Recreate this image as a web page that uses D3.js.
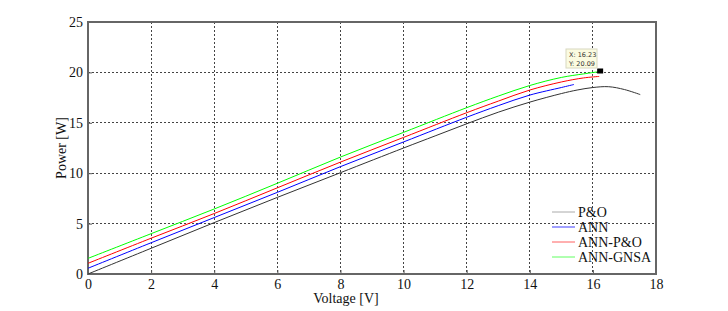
<!DOCTYPE html>
<html><head><meta charset="utf-8">
<script src="https://cdn.jsdelivr.net/npm/d3@7"></script>
<style>body{margin:0;background:#fff;} svg{display:block;}</style>
</head><body>
<svg id="c" width="728" height="311"></svg>
<script>
const xTicks = [0,2,4,6,8,10,12,14,16,18];
const yTicks = [0,5,10,15,20,25];
const seriesNames = ["P&O","ANN","ANN-P&O","ANN-GNSA"];
const seriesColors = ["#333333","#0000ff","#ff0000","#00ff00"];
const legendColors = ["#aaaaaa","#4040ff","#ff6060","#60ff60"];
const poX = [0,2,4,6,8,10,11,12,13,14,15,15.5,16,16.5,17,17.5];
const poY = [0,2.55,5.1,7.6,10.05,12.5,13.7,14.9,16.05,17.05,17.9,18.25,18.5,18.58,18.3,17.8];
const annX = [0,2,4,6,8,10,12,13,14,15,15.4];
const annY = [0.57,3.1,5.6,8.1,10.65,13.1,15.55,16.7,17.75,18.5,18.8];
const annpoX = [0,2,4,6,8,10,12,13,14,15,15.7,16.2];
const annpoY = [1.06,3.55,6.0,8.55,11.1,13.55,16.0,17.15,18.25,19.05,19.45,19.6];
const gnsaX = [0,2,4,6,8,10,12,13,14,15,15.7,16.23];
const gnsaY = [1.55,4.0,6.45,9.0,11.6,14.05,16.5,17.65,18.7,19.5,19.85,20.09];
const tipX = 16.23, tipY = 20.09;

const svg = d3.select("#c");
const L=88, R=656, T=22, B=274;
const x = d3.scaleLinear().domain([0,18]).range([L,R]);
const y = d3.scaleLinear().domain([0,25]).range([B,T]);
const font = "'Liberation Serif','Times New Roman',serif";

// gridlines
const g = svg.append("g");
g.selectAll(".gx").data(xTicks.slice(1,-1)).enter().append("line")
 .attr("x1",d=>x(d)).attr("x2",d=>x(d)).attr("y1",T).attr("y2",B)
 .attr("stroke","#444").attr("stroke-width",1).attr("stroke-dasharray","2,2").attr("shape-rendering","crispEdges");
g.selectAll(".gy").data(yTicks.slice(1,-1)).enter().append("line")
 .attr("y1",d=>y(d)).attr("y2",d=>y(d)).attr("x1",L).attr("x2",R)
 .attr("stroke","#444").attr("stroke-width",1).attr("stroke-dasharray","2,2").attr("shape-rendering","crispEdges");

// axes
const xa = svg.append("g").attr("transform",`translate(0,${B})`)
 .call(d3.axisBottom(x).tickValues(xTicks).tickSize(-4).tickPadding(5).tickFormat(d3.format("d")));
const ya = svg.append("g").attr("transform",`translate(${L},0)`)
 .call(d3.axisLeft(y).tickValues(yTicks).tickSize(-4).tickPadding(5).tickFormat(d3.format("d")));
[xa,ya].forEach(a=>{
 a.select(".domain").remove();
 a.selectAll("line").attr("stroke","#555");
 a.selectAll("text").attr("font-family",font).attr("font-size",14).attr("fill","#111");
});
// frame
svg.append("rect").attr("x",L).attr("y",T).attr("width",R-L).attr("height",B-T)
 .attr("fill","none").attr("stroke","#666").attr("stroke-width",1.2).attr("shape-rendering","crispEdges");

// lines
const data = [[poX,poY],[annX,annY],[annpoX,annpoY],[gnsaX,gnsaY]];
const line = d3.line().x(d=>x(d[0])).y(d=>y(d[1])).curve(d3.curveCatmullRom);
data.forEach((s,i)=>{
 const pts = s[0].map((v,j)=>[v,s[1][j]]);
 svg.append("path").datum(pts).attr("d",line).attr("fill","none")
  .attr("stroke",seriesColors[i]).attr("stroke-width",1);
});

// datatip
svg.append("rect").attr("x",x(tipX)-3).attr("y",y(tipY)-3).attr("width",6).attr("height",5).attr("fill","#000");
const tip = svg.append("g");
tip.append("rect").attr("x",566).attr("y",49).attr("width",31).attr("height",19)
 .attr("fill","#fbfbe0").attr("stroke","#d8d8c0").attr("stroke-width",1);
tip.append("text").attr("x",569).attr("y",57).text("X: " + tipX.toFixed(2))
 .attr("font-family","'DejaVu Sans',sans-serif").attr("font-size",6.5).attr("fill","#333");
tip.append("text").attr("x",569).attr("y",65.5).text("Y: " + tipY.toFixed(2))
 .attr("font-family","'DejaVu Sans',sans-serif").attr("font-size",6.5).attr("fill","#333");

// legend
const leg = svg.append("g");
seriesNames.forEach((n,i)=>{
 const yy = 212 + i*15;
 leg.append("line").attr("x1",552).attr("x2",575).attr("y1",yy).attr("y2",yy)
  .attr("stroke",legendColors[i]).attr("stroke-width",1);
 leg.append("text").attr("x",578).attr("y",yy+4.5).text(n)
  .attr("font-family",font).attr("font-size",14).attr("fill","#111");
});

// axis labels
svg.append("text").attr("x",346).attr("y",303).attr("text-anchor","middle").text("Voltage [V]")
 .attr("font-family",font).attr("font-size",14).attr("fill","#111");
svg.append("text").attr("transform","translate(66,148) rotate(-90)").attr("text-anchor","middle").text("Power [W]")
 .attr("font-family",font).attr("font-size",14).attr("fill","#111");
</script>
</body></html>
